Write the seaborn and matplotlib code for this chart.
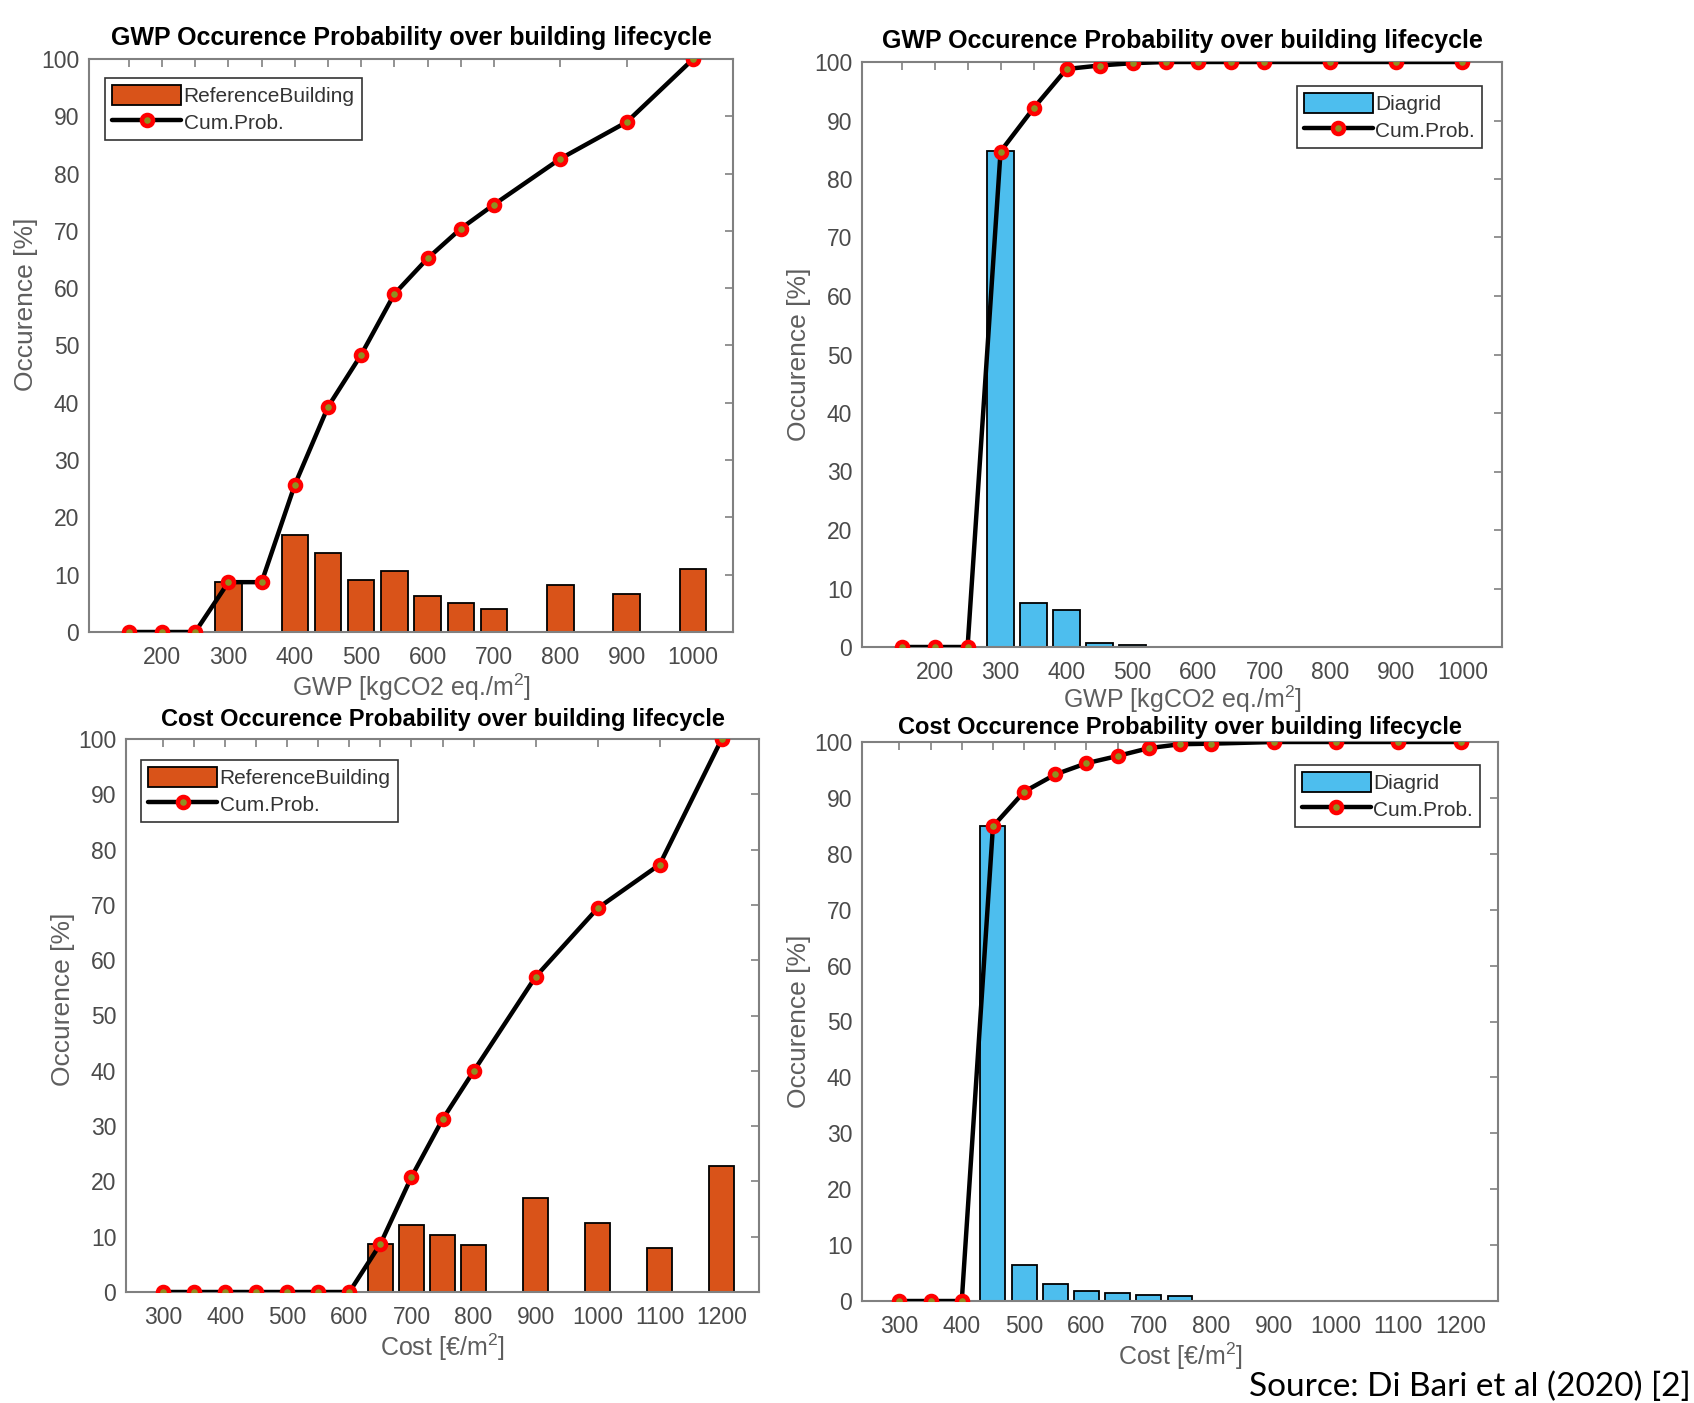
import numpy as np
import pandas as pd
import matplotlib
matplotlib.use("Agg")
import matplotlib.pyplot as plt
import seaborn as sns
from matplotlib.patches import Patch
from matplotlib.lines import Line2D

# ---------------- data ----------------
gwp_x = [150, 200, 250, 300, 350, 400, 450, 500, 550, 600, 650, 700, 800, 900, 1000]
gwp_tick_labels = ["", "200", "", "300", "", "400", "", "500", "", "600", "", "700", "800", "900", "1000"]

gwp_ref_bar_x = [300, 400, 450, 500, 550, 600, 650, 700, 800, 900, 1000]
gwp_ref_bar_y = [8.7, 17.0, 13.8, 9.1, 10.7, 6.3, 5.1, 4.1, 8.2, 6.6, 11.0]
gwp_ref_cum_y = [0, 0, 0, 8.7, 8.7, 25.7, 39.3, 48.4, 59.0, 65.2, 70.4, 74.6, 82.6, 89.0, 100]

gwp_dia_bar_x = [300, 350, 400, 450, 500]
gwp_dia_bar_y = [84.8, 7.5, 6.3, 0.7, 0.3]
gwp_dia_cum_y = [0, 0, 0, 84.7, 92.1, 98.8, 99.4, 99.8, 100, 100, 100, 100, 100, 100, 100]

cost_x = [300, 350, 400, 450, 500, 550, 600, 650, 700, 750, 800, 900, 1000, 1100, 1200]
cost_tick_labels = ["300", "", "400", "", "500", "", "600", "", "700", "", "800", "900", "1000", "1100", "1200"]

cost_ref_bar_x = [650, 700, 750, 800, 900, 1000, 1100, 1200]
cost_ref_bar_y = [8.7, 12.1, 10.3, 8.5, 17.0, 12.4, 7.9, 22.7]
cost_ref_cum_y = [0, 0, 0, 0, 0, 0, 0, 8.7, 20.8, 31.2, 39.9, 57.0, 69.4, 77.3, 100]

cost_dia_bar_x = [450, 500, 550, 600, 650, 700, 750]
cost_dia_bar_y = [84.9, 6.4, 3.0, 1.8, 1.5, 1.1, 0.9]
cost_dia_cum_y = [0, 0, 0, 84.9, 91.1, 94.2, 96.2, 97.5, 98.9, 99.6, 99.7, 100, 100, 100, 100]

gwp_title = "GWP Occurence Probability over building lifecycle"
cost_title = "Cost Occurence Probability over building lifecycle"
gwp_xlabel = "GWP [kgCO2 eq./m$^{2}$]"
cost_xlabel = "Cost [€/m$^{2}$]"
ylabel = "Occurence [%]"
ref_label = "ReferenceBuilding"
dia_label = "Diagrid"
cum_label = "Cum.Prob."
source_text = "Source: Di Bari et al (2020) [2]"

# ---------------- style ----------------
sns.set_theme(style="white")
plt.rcParams["font.family"] = ["Liberation Sans", "DejaVu Sans"]
plt.rcParams["mathtext.fontset"] = "custom"
plt.rcParams["mathtext.rm"] = "Liberation Sans"
plt.rcParams["mathtext.it"] = "Liberation Sans"

ORANGE = "#D95319"
BLUE = "#4DBEEE"
SPINE = "#808080"
TICKTXT = "#4a4a4a"
LABTXT = "#5e5e5e"
MFACE = "#8f8f22"

fig = plt.figure(figsize=(16.94, 14.03), dpi=100)

W, H = 1694, 1403
def rect(l, t, r, b):
    return [l / W, 1 - b / H, (r - l) / W, (b - t) / H]

panels = [
    dict(rect=rect(89, 59, 733, 632), bx=gwp_ref_bar_x, by=gwp_ref_bar_y, cx=gwp_x, cy=gwp_ref_cum_y,
         color=ORANGE, blabel=ref_label, title=gwp_title, xlabel=gwp_xlabel, ticklabels=gwp_tick_labels,
         xlim=(90, 1060), loc="upper left", anchor=(0.025, 0.967), ylab_y=0.572, tsize=18, tpad=10, xlpad=2),
    dict(rect=rect(862, 62, 1502, 647), bx=gwp_dia_bar_x, by=gwp_dia_bar_y, cx=gwp_x, cy=gwp_dia_cum_y,
         color=BLUE, blabel=dia_label, title=gwp_title, xlabel=gwp_xlabel, ticklabels=gwp_tick_labels,
         xlim=(90, 1060), loc="upper right", anchor=(0.969, 0.959), ylab_y=0.5, tsize=18, tpad=10, xlpad=0),
    dict(rect=rect(126, 739, 759, 1292), bx=cost_ref_bar_x, by=cost_ref_bar_y, cx=cost_x, cy=cost_ref_cum_y,
         color=ORANGE, blabel=ref_label, title=cost_title, xlabel=cost_xlabel, ticklabels=cost_tick_labels,
         xlim=(240, 1260), loc="upper left", anchor=(0.024, 0.962), ylab_y=0.53, tsize=17, tpad=9, xlpad=2),
    dict(rect=rect(862, 742, 1498, 1301), bx=cost_dia_bar_x, by=cost_dia_bar_y, cx=cost_x, cy=cost_dia_cum_y,
         color=BLUE, blabel=dia_label, title=cost_title, xlabel=cost_xlabel, ticklabels=cost_tick_labels,
         xlim=(240, 1260), loc="upper right", anchor=(0.972, 0.959), ylab_y=0.5, tsize=17, tpad=6, xlpad=2),
]

for p in panels:
    ax = fig.add_axes(p["rect"])
    bars = pd.DataFrame({"x": p["bx"], "y": p["by"]})
    sns.barplot(data=bars, x="x", y="y", native_scale=True, width=0.8, color=p["color"],
                saturation=1, edgecolor="black", linewidth=1.3, errorbar=None, ax=ax)
    cum = pd.DataFrame({"x": p["cx"], "y": p["cy"]})
    sns.lineplot(data=cum, x="x", y="y", color="black", linewidth=3.2, marker="o",
                 markersize=8, markeredgecolor="red", markerfacecolor=MFACE,
                 markeredgewidth=3.2, ax=ax, sort=False, zorder=3)

    ax.set_xlim(*p["xlim"])
    ax.set_ylim(0, 100)
    ax.set_xticks(p["cx"])
    ax.set_xticklabels(p["ticklabels"])
    ax.set_yticks(np.arange(0, 101, 10))
    ax.tick_params(axis="both", direction="in", top=True, right=True, length=6, width=1.2,
                   color=SPINE, labelcolor=TICKTXT, labelsize=16.5)
    ax.tick_params(axis="x", pad=10)
    ax.tick_params(axis="y", pad=7)
    for s in ax.spines.values():
        s.set_color(SPINE)
        s.set_linewidth(1.5)
        s.set_visible(True)

    ax.set_title(p["title"], fontsize=p["tsize"], fontweight="bold", color="black", pad=p["tpad"])
    ax.set_xlabel(p["xlabel"], fontsize=18, color=LABTXT, labelpad=p["xlpad"])
    ax.set_ylabel(ylabel, fontsize=19, color=LABTXT, labelpad=2)
    ax.yaxis.label.set_y(p["ylab_y"])

    handles = [Patch(facecolor=p["color"], edgecolor="black", linewidth=1.3),
               Line2D([], [], color="black", linewidth=3.2, marker="o", markersize=8,
                      markeredgecolor="red", markerfacecolor=MFACE, markeredgewidth=3.2)]
    leg = ax.legend(handles, [p["blabel"], cum_label], loc=p["loc"], bbox_to_anchor=p["anchor"],
                    borderaxespad=0, fontsize=15, frameon=True, fancybox=False, framealpha=1,
                    handlelength=3.3, handleheight=1.1, handletextpad=0.12, labelspacing=0.25,
                    borderpad=0.35)
    leg.get_frame().set_edgecolor("#333333")
    leg.get_frame().set_linewidth(1.2)
    for t in leg.get_texts():
        t.set_color("#333333")

fig.text(0.998, 1 - 1387 / H, source_text, ha="right", va="center", fontsize=24,
         family=["Lato", "DejaVu Sans"], color="black")

fig.savefig("out.png", dpi=100)
